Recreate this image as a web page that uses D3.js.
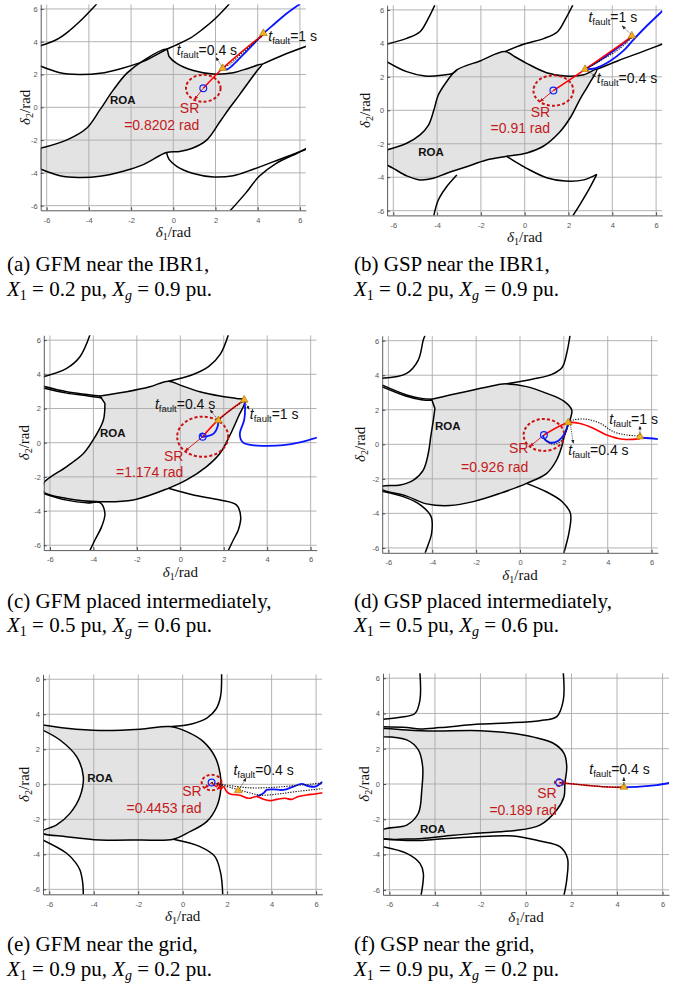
<!DOCTYPE html>
<html>
<head>
<meta charset="utf-8">
<script src="https://cdn.jsdelivr.net/npm/d3@7"></script>
<style>
  body { margin: 0; background: #fff; }
  svg { display: block; }
</style>
</head>
<body>
<svg id="fig" width="686" height="992"></svg>
<script>
const TAU = 2 * Math.PI;
const ticks = [-6, -4, -2, 0, 2, 4, 6];

// ---------- (a) GFM near IBR1 ----------
const roaA = [[-6.3,-2.5],[-5.06,-2.0],[-4.11,-1.28],[-3.48,-0.16],[-2.84,1.06],[-2.21,2.07],[-1.42,2.85],[-0.32,3.54],[-0.2,3.1],[0.16,2.68],[0.95,2.24],[1.9,2.03],[2.84,2.11],[3.6,2.4],[4.2,2.62],[3.95,2.2],[3.55,1.5],[3.1,0.7],[2.69,0.0],[2.2,-0.9],[1.58,-2.0],[0.9,-2.5],[0.3,-2.7],[-0.32,-2.76],[-1.42,-3.5],[-2.37,-3.9],[-3.48,-4.21],[-4.5,-4.28],[-5.37,-4.17],[-6.3,-3.76]];
const sepA = [
  [[-6.3,3.75],[-5.5,4.15],[-4.9,4.7],[-4.3,5.4],[-3.63,6.3]],
  [[-6.3,2.52],[-5.37,2.11],[-4.5,2.0],[-3.48,2.07],[-2.37,2.4],[-1.42,2.8],[-0.32,3.54],[0.1,3.78],[0.78,4.2],[1.38,4.75],[1.98,5.4],[2.65,6.3]],
  [[4.2,2.62],[5.21,3.19],[6.3,3.72]],
  [[-0.32,-2.76],[-0.2,-3.18],[0.16,-3.6],[0.95,-4.04],[1.9,-4.25],[2.84,-4.17],[3.79,-3.78],[5.21,-3.09],[6.3,-2.56]],
  [[2.7,-6.3],[3.44,-5.22],[4.07,-4.21],[4.86,-3.43],[5.96,-2.74],[6.3,-2.5]]
];
const redA = [[1.42,1.16],[2.34,2.38],[3.3,3.45],[4.27,4.45]];
const blueA = [[[2.34,2.38],[2.55,2.32],[2.8,2.55],[3.3,3.2],[3.8,3.85],[4.27,4.5],[4.8,5.1],[5.4,5.75],[6.0,6.3]]];
const dotA = [[[2.34,2.38],[2.7,2.65],[3.3,3.35],[4.27,4.4]]];
const triA = [[2.34,2.38],[4.27,4.51]];

// ---------- (b) GSP near IBR1 ----------
const roaB = [[-6.3,-2.37],[-5.39,-1.97],[-4.78,-1.47],[-4.4,-0.9],[-4.15,0.0],[-3.95,0.9],[-3.6,1.65],[-3.1,2.41],[-2.04,2.95],[-0.9,3.51],[-0.45,3.2],[0.09,2.81],[1.0,2.25],[1.85,2.05],[2.7,2.12],[3.29,2.45],[2.95,1.6],[2.5,0.6],[2.1,-0.4],[1.6,-1.3],[0.85,-2.15],[0.1,-2.55],[-0.82,-2.75],[-1.74,-2.97],[-2.65,-3.37],[-3.56,-3.76],[-4.17,-4.06],[-4.78,-4.16],[-5.39,-3.92],[-6.0,-3.47],[-6.3,-3.27]];
const sepB = [
  [[-6.3,3.96],[-5.39,4.3],[-4.78,4.7],[-4.4,5.5],[-4.1,6.3]],
  [[-6.3,2.91],[-5.39,2.31],[-4.55,2.05],[-3.71,2.11],[-3.3,2.2],[-3.1,2.41]],
  [[-0.9,3.51],[-0.02,3.96],[0.89,4.3],[1.5,4.7],[1.88,5.5],[2.2,6.3]],
  [[3.29,2.45],[4.24,2.95],[5.38,3.51],[6.3,3.96]],
  [[-3.1,-3.87],[-3.6,-4.63],[-3.95,-5.38],[-4.15,-6.3]],
  [[-0.82,-2.75],[-0.4,-3.1],[0.09,-3.47],[1.0,-4.03],[1.85,-4.23],[2.7,-4.16],[3.29,-3.83]],
  [[3.29,-3.83],[2.95,-4.68],[2.5,-5.68],[2.2,-6.3]]
];
const redB = [[1.31,1.18],[2.76,2.45],[3.8,3.4],[4.89,4.4]];
const blueB = [
  [[2.76,2.45],[3.2,2.5],[3.9,2.95],[4.5,3.55],[4.95,4.2],[5.5,4.95],[6.3,5.95]],
  [[2.76,2.45],[3.5,3.05],[4.2,3.7],[4.89,4.4]]
];
const dotB = [[[2.76,2.45],[3.5,3.0],[4.3,3.65],[4.89,4.35]]];
const triB = [[2.76,2.45],[4.89,4.45]];

// ---------- (c) GFM placed intermediately ----------
const roaC = [[-3.7,2.73],[-2.47,2.98],[-1.4,3.27],[-0.55,3.6],[0.0,3.37],[0.9,2.98],[1.83,2.73],[2.59,2.59],[2.98,2.5],[2.67,1.52],[2.29,0.45],[1.83,-0.62],[1.21,-1.4],[0.29,-2.18],[-0.55,-2.67],[-2.16,-3.35],[-3.7,-3.45],[-5.23,-3.26],[-6.3,-2.87],[-6.3,-2.38],[-5.23,-1.4],[-4.45,-0.62],[-3.92,0.35],[-3.54,1.33],[-3.47,2.3]];
const sepC = [
  [[-6.3,3.86],[-5.23,4.35],[-4.62,5.03],[-4.16,6.3]],
  [[-6.3,3.3],[-5.23,2.98],[-4.3,2.82],[-3.7,2.73]],
  [[-6.3,3.2],[-5.23,2.9],[-4.3,2.75],[-3.6,2.62]],
  [[-0.55,3.6],[0.5,3.95],[1.3,4.45],[1.85,5.2],[2.21,6.3]],
  [[-6.3,-2.97],[-5.23,-3.36],[-4.3,-3.52],[-3.7,-3.51],[-3.47,-4.13],[-3.62,-4.91],[-3.93,-5.69],[-4.16,-6.3]],
  [[-0.55,-2.67],[0.6,-3.06],[1.83,-3.35],[2.59,-3.65],[2.78,-4.33],[2.67,-5.11],[2.44,-5.69],[2.21,-6.3]]
];
const redC = [[1.03,0.35],[1.75,1.33],[2.94,2.5]];
const blueC = [
  [[2.94,2.5],[2.98,2.1],[2.94,1.33],[2.74,0.5],[2.88,0.02],[3.4,-0.16],[4.0,-0.18],[4.74,-0.14],[5.5,0.02],[6.3,0.3]],
  [[1.75,1.33],[1.72,0.95],[1.55,0.55],[1.25,0.38],[1.0,0.35],[0.93,0.5],[1.05,0.55]]
];
const dotC = [[[1.75,1.33],[2.3,1.9],[2.94,2.45]]];
const triC = [[1.75,1.3],[2.94,2.5]];

// ---------- (d) GSP placed intermediately ----------
const roaD = [[-4.03,2.61],[-3.2,2.85],[-2.13,3.15],[-1.06,3.44],[-0.61,3.5],[0.3,3.34],[1.22,2.95],[2.0,2.5],[2.36,1.99],[2.28,1.41],[2.05,0.64],[1.9,-0.14],[1.67,-0.91],[1.22,-1.68],[0.3,-2.26],[-0.91,-2.84],[-2.13,-3.32],[-3.2,-3.55],[-4.26,-3.45],[-5.17,-3.0],[-6.3,-2.6],[-6.3,-2.45],[-5.47,-2.36],[-4.86,-2.07],[-4.41,-1.49],[-4.18,-0.52],[-4.07,0.44],[-3.95,1.41],[-3.88,2.08]];
const sepD = [
  [[-6.3,3.82],[-5.17,4.11],[-4.64,4.88],[-4.41,6.04],[-4.33,6.3]],
  [[-6.3,3.44],[-5.17,2.86],[-4.5,2.66],[-4.03,2.61]],
  [[-6.3,3.34],[-5.17,2.78],[-4.5,2.58],[-4.0,2.55]],
  [[2.28,6.3],[2.13,5.27],[1.92,4.45],[1.45,4.05],[0.6,3.78],[-0.61,3.5]],
  [[-6.3,-2.72],[-5.17,-3.1],[-4.5,-3.55],[-4.05,-4.2],[-4.03,-5.15],[-4.22,-5.93],[-4.33,-6.3]],
  [[0.3,-2.26],[1.2,-2.75],[1.9,-3.3],[2.3,-4.0],[2.25,-5.0],[2.0,-6.3]]
];
const redD = [[1.09,0.54],[2.2,1.25],[2.74,1.2],[3.34,0.93],[3.95,0.54],[4.71,0.29],[5.47,0.33]];
const blueD = [
  [[2.2,1.22],[2.05,0.64],[1.75,0.21],[1.37,0.1],[1.09,0.35],[1.06,0.54]],
  [[5.47,0.38],[5.9,0.35],[6.3,0.3]]
];
const dotD = [
  [[2.2,1.25],[2.43,1.41],[3.04,1.45],[3.65,1.22],[4.26,0.73],[4.86,0.54],[5.47,0.48]],
  [[2.2,1.2],[2.0,0.4],[1.7,0.05],[1.35,0.05],[1.15,0.3]]
];
const triD = [[2.2,1.25],[5.47,0.44]];

// ---------- (e) GFM near the grid ----------
const roaE = [[-6.3,3.39],[-5.22,3.2],[-3.72,3.07],[-1.92,3.14],[-0.57,3.3],[0.18,3.01],[0.93,2.44],[1.45,1.58],[1.68,0.63],[1.71,-0.32],[1.53,-1.28],[1.08,-2.13],[0.18,-2.8],[-0.42,-3.14],[-1.92,-3.18],[-3.72,-3.18],[-5.22,-2.99],[-6.3,-2.8],[-6.3,-2.67],[-5.67,-2.32],[-5.07,-1.66],[-4.62,-0.7],[-4.47,0.44],[-4.77,1.58],[-5.52,2.53],[-6.3,3.1]];
const sepE = [
  [[1.75,6.3],[1.7,5.0],[1.5,4.3],[1.1,3.8],[0.4,3.45],[-0.5,3.3]],
  [[-6.3,-3.18],[-5.22,-3.94],[-4.8,-4.5],[-4.62,-4.9],[-4.5,-5.6],[-4.47,-6.3]],
  [[-0.42,-3.14],[0.78,-3.56],[1.45,-4.13],[1.71,-5.09],[1.8,-6.3]]
];
const redE = [[1.3,0.1],[1.53,-0.13],[1.6,0.1],[1.71,-0.29],[1.83,-0.13],[1.98,-0.42],[2.13,-0.55],[2.58,-0.63],[2.95,-0.8],[3.33,-0.7],[3.63,-0.86],[3.93,-0.93],[4.23,-0.86],[4.6,-0.8],[4.9,-0.86],[5.2,-0.7],[5.58,-0.61],[5.95,-0.55],[6.3,-0.48]];
const blueE = [[[3.33,-0.7],[3.63,-0.51],[3.78,-0.32],[4.08,-0.29],[4.53,-0.32],[4.98,-0.13],[5.35,0.02],[5.65,-0.1],[5.95,-0.13],[6.3,0.15]]];
const dotE = [
  [[1.3,0.1],[2.2,-0.2],[2.9,-0.45],[3.5,-0.62],[4.3,-0.55],[5.2,-0.4],[6.3,-0.25]],
  [[1.3,0.1],[2.0,-0.05],[3.0,-0.2],[4.0,-0.18],[5.0,-0.08],[6.3,0.08]]
];
const triE = [[2.5,-0.36]];

// ---------- (f) GSP near the grid ----------
const roaF = [[-6.3,3.16],[-5.24,3.06],[-4.07,3.0],[-2.0,3.02],[-0.12,2.78],[1.2,2.31],[1.67,1.74],[1.79,0.98],[1.71,0.04],[1.67,-0.72],[1.35,-1.47],[0.61,-2.33],[-0.56,-2.65],[-2.31,-2.8],[-3.78,-2.99],[-4.66,-3.1],[-5.24,-3.12],[-6.3,-3.05],[-6.3,-2.61],[-5.24,-2.33],[-4.73,-1.66],[-4.58,-0.34],[-4.54,0.98],[-4.73,1.93],[-5.24,2.5],[-6.3,2.68]];
const sepF = [
  [[-6.3,3.67],[-5.53,3.78],[-4.88,4.0],[-4.66,4.76],[-4.66,6.3]],
  [[-6.3,3.24],[-5.24,3.2],[-4.66,3.12],[-3.78,3.2],[-2.0,3.4],[-0.85,3.46],[0.61,3.59],[1.35,3.82],[1.64,4.76],[1.64,6.3]],
  [[-6.3,-3.12],[-5.24,-3.2],[-4.66,-3.2],[-3.78,-3.12],[-2.31,-3.0],[-0.56,-2.95],[0.61,-3.23],[1.49,-3.55],[1.82,-4.2],[1.79,-5.44],[1.67,-6.3]],
  [[-6.3,-3.55],[-5.24,-3.93],[-4.66,-4.5],[-4.51,-5.07],[-4.61,-6.3]]
];
const redF = [[1.46,0.08],[2.08,0.0],[2.96,-0.11],[3.6,-0.17],[4.3,-0.19]];
const blueF = [[[4.3,-0.19],[5.0,-0.15],[5.74,-0.06],[6.3,0.06]]];
const dotF = [[[1.5,0.08],[2.5,-0.05],[3.5,-0.16],[4.3,-0.18]]];
const triF = [[4.3,-0.17]];

// stability radius of each case (rad) and the stable equilibrium it is centred on
const srRadius = [0.8202, 0.91, 1.174, 0.926, 0.4453, 0.189];
const srCentre = [[1.42,1.16],[1.31,1.18],[1.03,0.35],[1.09,0.54],[1.3,0.1],[1.46,0.08]];
const srArrowDir = [[-0.52,-0.85],[-0.68,-0.73],[-0.7,-0.72],[-0.69,-0.72],[-0.7,-0.7],null];

const captionsLine1 = [
  "(a) GFM near the IBR1,", "(b) GSP near the IBR1,",
  "(c) GFM placed intermediately,", "(d) GSP placed intermediately,",
  "(e) GFM near the grid,", "(f) GSP near the grid,"
];
const x1Values = ["0.2", "0.2", "0.5", "0.5", "0.9", "0.9"];
const xgValues = ["0.9", "0.9", "0.6", "0.6", "0.2", "0.2"];

// ---------- layout of the six axes ----------
const panels = [
  { box:[40.7,305.9,4.3,210.3], ylab:25, cap:[7,271,295.5], roa:roaA, sep:sepA, red:redA, blue:blueA, dot:dotA, tri:triA,
    tf:[{v:"0.4 s",at:[0.16,3.19]},{v:"1 s",at:[4.5,4.07]}], arrows:[[[2.3,2.5],[2.02,3.05]]],
    srText:[1.23,-0.37,-1.36], roaText:[-3.0,0.2] },
  { box:[387.1,662.3,5.2,215.4], ylab:365, cap:[354,271,295.5], roa:roaB, sep:sepB, red:redB, blue:blueB, dot:dotB, tri:triB,
    tf:[{v:"1 s",at:[2.91,5.3]},{v:"0.4 s",at:[3.29,1.61]}], arrows:[[[4.85,4.55],[4.45,5.05]],[[2.85,2.4],[3.25,2.0]]],
    srText:[1.16,-0.38,-1.36], roaText:[-4.86,-2.73] },
  { box:[43.8,316.8,335.3,550.1], ylab:23.5, cap:[7,607.5,632], roa:roaC, sep:sepC, red:redC, blue:blueC, dot:dotC, tri:triC,
    tf:[{v:"0.4 s",at:[-1.17,2.0]},{v:"1 s",at:[3.2,1.36]}], arrows:[[[1.7,1.4],[1.37,1.92]],[[2.98,2.4],[3.17,1.95]]],
    srText:[0.14,-1.05,-2.0], roaText:[-3.7,0.31] },
  { box:[382.2,657.8,335.8,552.8], ylab:360, cap:[354,607.5,632], roa:roaD, sep:sepD, red:redD, blue:blueD, dot:dotD, tri:triD,
    tf:[{v:"1 s",at:[4.07,1.18]},{v:"0.4 s",at:[2.2,-0.62]}], arrows:[[[5.47,0.55],[5.47,1.06]],[[2.3,1.15],[2.43,0.05]]],
    srText:[0.38,-0.48,-1.62], roaText:[-3.88,0.83] },
  { box:[43,322.4,674.3,894.3], ylab:23.5, cap:[7,951,975.5], roa:roaE, sep:sepE, red:redE, blue:blueE, dot:dotE, tri:triE,
    tf:[{v:"0.4 s",at:[2.28,0.53]}], arrows:[[[2.55,-0.28],[2.85,0.35]]],
    srText:[0.85,-0.67,-1.62], roaText:[-4.29,0.15] },
  { box:[383,669,673.2,894.8], ylab:363.5, cap:[354,951,975.5], roa:roaF, sep:sepF, red:redF, blue:blueF, dot:dotF, tri:triF,
    tf:[{v:"0.4 s",at:[2.78,0.57]}], arrows:[[[4.3,-0.08],[4.3,0.38]]],
    srText:[1.35,-0.81,-1.74], roaText:[-4.66,-2.76] }
];

const SANS = "'Liberation Sans', Arial, sans-serif";
const SERIF = "'Liberation Serif', 'DejaVu Serif', serif";
const RED_TEXT = "#c41a1a";

const svg = d3.select("#fig");
svg.append("rect").attr("width", 686).attr("height", 992).attr("fill", "#fff");
const defs = svg.append("defs");
defs.append("marker").attr("id", "headK").attr("viewBox", "0 0 10 10")
  .attr("refX", 9).attr("refY", 5).attr("markerWidth", 5).attr("markerHeight", 5)
  .attr("orient", "auto")
  .append("path").attr("d", "M0,1L10,5L0,9Z").attr("fill", "#222");
defs.append("marker").attr("id", "headR").attr("viewBox", "0 0 10 10")
  .attr("refX", 9).attr("refY", 5).attr("markerWidth", 5).attr("markerHeight", 5)
  .attr("orient", "auto")
  .append("path").attr("d", "M0,1L10,5L0,9Z").attr("fill", "#d01010");

panels.forEach((p, i) => {
  const [L, R, T, B] = p.box;
  const x = d3.scaleLinear().domain([-TAU, TAU]).range([L, R]);
  const y = d3.scaleLinear().domain([-TAU, TAU]).range([B, T]);
  const g = svg.append("g");
  const clipId = "clip" + i;
  defs.append("clipPath").attr("id", clipId)
    .append("rect").attr("x", L).attr("y", T).attr("width", R - L).attr("height", B - T);

  const curve = d3.line().x(d => x(d[0])).y(d => y(d[1])).curve(d3.curveCatmullRom.alpha(0.5));
  const plot = g.append("g").attr("clip-path", `url(#${clipId})`);

  // region of attraction
  plot.append("path").attr("d", curve(p.roa) + "Z").attr("fill", "#e3e3e3").attr("stroke", "none");

  // grid
  plot.append("g").selectAll("line").data(ticks).join("line")
    .attr("x1", d => x(d)).attr("x2", d => x(d)).attr("y1", T).attr("y2", B)
    .attr("stroke", "#aaaaaa").attr("stroke-width", 0.9);
  plot.append("g").selectAll("line").data(ticks).join("line")
    .attr("y1", d => y(d)).attr("y2", d => y(d)).attr("x1", L).attr("x2", R)
    .attr("stroke", "#aaaaaa").attr("stroke-width", 0.9);

  // axes
  const xAxis = d3.axisBottom(x).tickValues(ticks).tickFormat(d => String(d))
    .tickSizeInner(-3).tickSizeOuter(0).tickPadding(7);
  const yAxis = d3.axisLeft(y).tickValues(ticks).tickFormat(d => String(d))
    .tickSizeInner(-3).tickSizeOuter(0).tickPadding(3);
  const ax = g.append("g").attr("transform", `translate(0,${B})`).call(xAxis);
  const ay = g.append("g").attr("transform", `translate(${L},0)`).call(yAxis);
  [ax, ay].forEach(a => {
    a.select(".domain").attr("stroke", "#4a4a4a").attr("stroke-width", 0.9);
    a.selectAll(".tick line").attr("stroke", "#4a4a4a");
    a.selectAll(".tick text").attr("fill", "#555").attr("font-size", 7.5)
      .attr("font-family", "'Liberation Sans', Arial, sans-serif");
  });

  // ROA boundary and other separatrices
  plot.append("path").attr("d", curve(p.roa) + "Z").attr("fill", "none")
    .attr("stroke", "#000").attr("stroke-width", 1.5);
  p.sep.forEach(c => plot.append("path").attr("d", curve(c)).attr("fill", "none")
    .attr("stroke", "#000").attr("stroke-width", 1.5));

  // stability radius circle
  const c0 = srCentre[i], r = srRadius[i];
  plot.append("ellipse").attr("cx", x(c0[0])).attr("cy", y(c0[1]))
    .attr("rx", x(r) - x(0)).attr("ry", y(0) - y(r))
    .attr("fill", "none").attr("stroke", "#cc1111").attr("stroke-width", 2)
    .attr("stroke-dasharray", "3,2.2");
  const dir = srArrowDir[i];
  if (dir) {
    const n = Math.hypot(dir[0], dir[1]);
    plot.append("line").attr("x1", x(c0[0])).attr("y1", y(c0[1]))
      .attr("x2", x(c0[0] + r * dir[0] / n)).attr("y2", y(c0[1] + r * dir[1] / n))
      .attr("stroke", "#d01010").attr("stroke-width", 0.9).attr("marker-end", "url(#headR)");
  }

  // trajectories
  p.blue.forEach(c => plot.append("path").attr("d", curve(c)).attr("fill", "none")
    .attr("stroke", "#0a14ff").attr("stroke-width", 1.8));
  plot.append("path").attr("d", curve(p.red)).attr("fill", "none")
    .attr("stroke", "#ff0000").attr("stroke-width", 1.6);
  p.dot.forEach(c => plot.append("path").attr("d", curve(c)).attr("fill", "none")
    .attr("stroke", "#111").attr("stroke-width", 1.1).attr("stroke-dasharray", "1.3,1.3"));

  // equilibrium marker
  plot.append("circle").attr("cx", x(c0[0])).attr("cy", y(c0[1])).attr("r", 3.4)
    .attr("fill", "none").attr("stroke", "#1020ff").attr("stroke-width", 1.2);

  // fault-clearing markers
  plot.selectAll("path.tri").data(p.tri).join("path").attr("class", "tri")
    .attr("transform", d => `translate(${x(d[0])},${y(d[1])})`)
    .attr("d", d3.symbol(d3.symbolTriangle, 26))
    .attr("fill", "#f2b01e").attr("stroke", "#a86a00").attr("stroke-width", 0.6);

  // annotation arrows
  p.arrows.forEach(a => g.append("line")
    .attr("x1", x(a[0][0])).attr("y1", y(a[0][1])).attr("x2", x(a[1][0])).attr("y2", y(a[1][1]))
    .attr("stroke", "#333").attr("stroke-width", 0.8).attr("stroke-dasharray", "1.2,1")
    .attr("marker-end", "url(#headK)"));

  // t_fault labels
  p.tf.forEach(t => {
    const tx = g.append("text").attr("x", x(t.at[0])).attr("y", y(t.at[1]))
      .attr("font-family", SANS).attr("font-size", 14).attr("fill", "#111");
    tx.append("tspan").attr("font-style", "italic").text("t");
    tx.append("tspan").attr("font-size", 9.5).attr("dy", 3).text("fault");
    tx.append("tspan").attr("dy", -3).text("=" + t.v);
  });

  // SR labels
  const [sx, sy1, sy2] = p.srText;
  g.append("text").attr("x", x(sx)).attr("y", y(sy1)).attr("text-anchor", "end")
    .attr("font-family", SANS).attr("font-size", 14).attr("fill", RED_TEXT).text("SR");
  g.append("text").attr("x", x(sx)).attr("y", y(sy2)).attr("text-anchor", "end")
    .attr("font-family", SANS).attr("font-size", 14).attr("fill", RED_TEXT)
    .text("=" + srRadius[i] + " rad");
  g.append("text").attr("x", x(p.roaText[0])).attr("y", y(p.roaText[1]))
    .attr("font-family", SANS).attr("font-size", 11.5).attr("font-weight", "bold").attr("fill", "#111")
    .text("ROA");

  // axis titles
  const xl = g.append("text").attr("x", (L + R) / 2).attr("y", B + 27).attr("text-anchor", "middle")
    .attr("font-family", SERIF).attr("font-size", 15).attr("fill", "#111");
  xl.append("tspan").attr("font-style", "italic").text("δ");
  xl.append("tspan").attr("font-size", 10).attr("dy", 3).text("1");
  xl.append("tspan").attr("dy", -3).text("/rad");
  const yl = g.append("text").attr("transform", `translate(${p.ylab},${(T + B) / 2}) rotate(-90)`)
    .attr("text-anchor", "middle").attr("dy", "0.35em")
    .attr("font-family", SERIF).attr("font-size", 15).attr("fill", "#111");
  yl.append("tspan").attr("font-style", "italic").text("δ");
  yl.append("tspan").attr("font-size", 10).attr("dy", 3).text("2");
  yl.append("tspan").attr("dy", -3).text("/rad");

  // caption
  const [cx, b1, b2] = p.cap;
  svg.append("text").attr("x", cx).attr("y", b1).attr("font-family", SERIF).attr("font-size", 21)
    .attr("fill", "#000").text(captionsLine1[i]);
  const c2 = svg.append("text").attr("x", cx).attr("y", b2).attr("font-family", SERIF)
    .attr("font-size", 21).attr("fill", "#000");
  c2.append("tspan").attr("font-style", "italic").text("X");
  c2.append("tspan").attr("font-size", 14).attr("dy", 4).text("1");
  c2.append("tspan").attr("dy", -4).text(" = " + x1Values[i] + " pu, ");
  c2.append("tspan").attr("font-style", "italic").text("X");
  c2.append("tspan").attr("font-style", "italic").attr("font-size", 14).attr("dy", 4).text("g");
  c2.append("tspan").attr("dy", -4).text(" = " + xgValues[i] + " pu.");
});
</script>
</body>
</html>
